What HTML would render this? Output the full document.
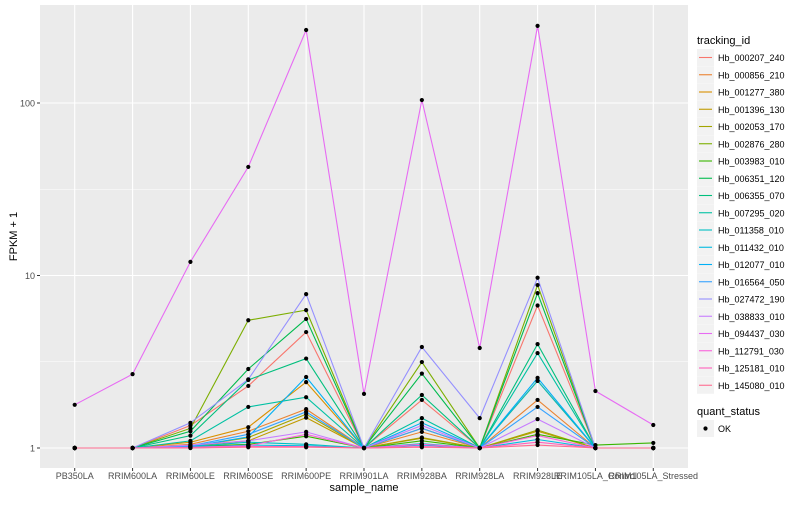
<!DOCTYPE html>
<html><head><meta charset="utf-8"><style>
body{margin:0;background:#fff;font-family:"Liberation Sans",sans-serif;}
svg text{font-family:"Liberation Sans",sans-serif;}
</style></head><body>
<svg id="c" width="800" height="500" xmlns="http://www.w3.org/2000/svg"></svg>
<script>
const categories=["PB350LA","RRIM600LA","RRIM600LE","RRIM600SE","RRIM600PE","RRIM901LA","RRIM928BA","RRIM928LA","RRIM928LE","RRIM105LA_Control","RRIM105LA_Stressed"];
const seriesNames=["Hb_000207_240","Hb_000856_210","Hb_001277_380","Hb_001396_130","Hb_002053_170","Hb_002876_280","Hb_003983_010","Hb_006351_120","Hb_006355_070","Hb_007295_020","Hb_011358_010","Hb_011432_010","Hb_012077_010","Hb_016564_050","Hb_027472_190","Hb_038833_010","Hb_094437_030","Hb_112791_030","Hb_125181_010","Hb_145080_010"];
const s0=[1,1,1.35,2.29,4.7,1,1.9,1,6.7,1,1];
const s1=[1,1,1.05,1.25,1.68,1,1.24,1,1.9,1,1];
const s2=[1,1,1.08,1.32,2.41,1,1.3,1,2.45,1,1];
const s3=[1,1,1.03,1.1,1.5,1,1.15,1,1.25,1,1];
const s4=[1,1,1.02,1.15,1.57,1,1.14,1,1.27,1,1];
const s5=[1,1,1.3,5.5,6.3,1,3.15,1,8.8,1,1];
const s6=[1,1,1.02,1.05,1.17,1,1.1,1,1.2,1.04,1.07];
const s7=[1,1,1.25,2.87,5.6,1,2.7,1,7.9,1,1];
const s8=[1,1,1.18,2.48,3.3,1,2.03,1,4.0,1,1];
const s9=[1,1,1.1,1.73,1.97,1,1.49,1,3.55,1,1];
const s10=[1,1,1.02,1.08,1.05,1,1.06,1,2.45,1,1];
const s11=[1,1,1.01,1.04,1.03,1,1.04,1,1.12,1,1];
const s12=[1,1,1.02,1.16,2.58,1,1.4,1,2.55,1,1];
const s13=[1,1,1.03,1.2,1.62,1,1.3,1,1.73,1,1];
const s14=[1,1,1.4,2.5,7.8,1,3.85,1.49,9.7,1,1];
const s15=[1,1,1.04,1.1,1.24,1,1.35,1,1.47,1,1];
const s16=[1.78,2.68,12,42.6,265,2.06,104,3.8,280,2.14,1.36];
const s17=[1,1,1.01,1.03,1.2,1,1.05,1,1.18,1,1];
const s18=[1,1,1,1.02,1.02,1,1.02,1,1.08,1,1];
const s19=[1,1,1,1.01,1.01,1,1.01,1,1.04,1,1];
const allSeries=[s0,s1,s2,s3,s4,s5,s6,s7,s8,s9,s10,s11,s12,s13,s14,s15,s16,s17,s18,s19];
const yTicks=[1,10,100];
const colors=["#F8766D","#EA8331","#D89000","#C09B00","#A3A500","#7CAE00","#39B600","#00BB4E","#00BF7D","#00C1A3","#00BFC4","#00BAE0","#00B0F6","#35A2FF","#9590FF","#C77CFF","#E76BF3","#FA62DB","#FF62BC","#FF6C91"];

const NS="http://www.w3.org/2000/svg";
const svg=document.getElementById('c');
const P={l:40,r:688,t:5,b:468};
function x(i){const step=(P.r-P.l)/(categories.length-1+1.2);return P.l+step*(0.6+i);}
function y(v){return 448-172.5*Math.log10(v);}
function mk(tag,attrs,parent){const e=document.createElementNS(NS,tag);for(const k in attrs)e.setAttribute(k,attrs[k]);(parent||svg).appendChild(e);return e;}

const panel=mk('rect',{x:P.l,y:P.t,width:P.r-P.l,height:P.b-P.t,fill:'#EBEBEB'});


[0.5,1.5].forEach(e=>{const g=mk('line',{x1:P.l,x2:P.r,y1:y(Math.pow(10,e)),y2:y(Math.pow(10,e)),stroke:'#fff','stroke-width':0.5});

});
yTicks.forEach(t=>{const g=mk('line',{x1:P.l,x2:P.r,y1:y(t),y2:y(t),stroke:'#fff','stroke-width':1.1});


mk('line',{x1:P.l-3,x2:P.l,y1:y(t),y2:y(t),stroke:'#333','stroke-width':1});
const tx=mk('text',{x:P.l-5,y:y(t)+3.5,'text-anchor':'end','font-size':9,fill:'#4D4D4D'});tx.textContent=t;

});
categories.forEach((c,i)=>{const g=mk('line',{x1:x(i),x2:x(i),y1:P.t,y2:P.b,stroke:'#fff','stroke-width':1.1});


mk('line',{x1:x(i),x2:x(i),y1:P.b,y2:P.b+3,stroke:'#333','stroke-width':1});
const tx=mk('text',{x:x(i),y:P.b+11,'text-anchor':'middle','font-size':9,fill:'#4D4D4D'});tx.textContent=c;

});
allSeries.forEach((s,k)=>{const pl=mk('polyline',{points:s.map((v,i)=>x(i)+','+y(v)).join(' '),fill:'none',stroke:colors[k],'stroke-width':1.1});

});
allSeries.forEach((s,k)=>{s.forEach((v,i)=>{const p=mk('circle',{cx:x(i),cy:y(v),r:2.1,fill:'#000'});

});});
const xt=mk('text',{x:(P.l+P.r)/2,y:491,'text-anchor':'middle','font-size':11,fill:'#000'});xt.textContent='sample_name';


const yt=mk('text',{x:0,y:0,'text-anchor':'middle','font-size':11,fill:'#000',transform:'translate(17,'+((P.t+P.b)/2)+') rotate(-90)'});yt.textContent='FPKM + 1';


const lt=mk('text',{x:697,y:44,'font-size':11,fill:'#000'});lt.textContent='tracking_id';


seriesNames.forEach((n,k)=>{const ky=49+k*17.25;
const b=mk('rect',{x:697,y:ky,width:17,height:17,fill:'#F2F2F2'});


mk('line',{x1:699,x2:712,y1:ky+8.5,y2:ky+8.5,stroke:colors[k],'stroke-width':1.1});
const t=mk('text',{x:718,y:ky+12,'font-size':9,fill:'#000'});t.textContent=n;

});
const qt=mk('text',{x:697,y:415,'font-size':11,fill:'#000'});qt.textContent='quant_status';


const qb=mk('rect',{x:697,y:420,width:17,height:17,fill:'#F2F2F2'});


mk('circle',{cx:705.5,cy:428.5,r:2.1,fill:'#000'});
const qo=mk('text',{x:718,y:432,'font-size':9,fill:'#000'});qo.textContent='OK';


</script>
</body></html>
